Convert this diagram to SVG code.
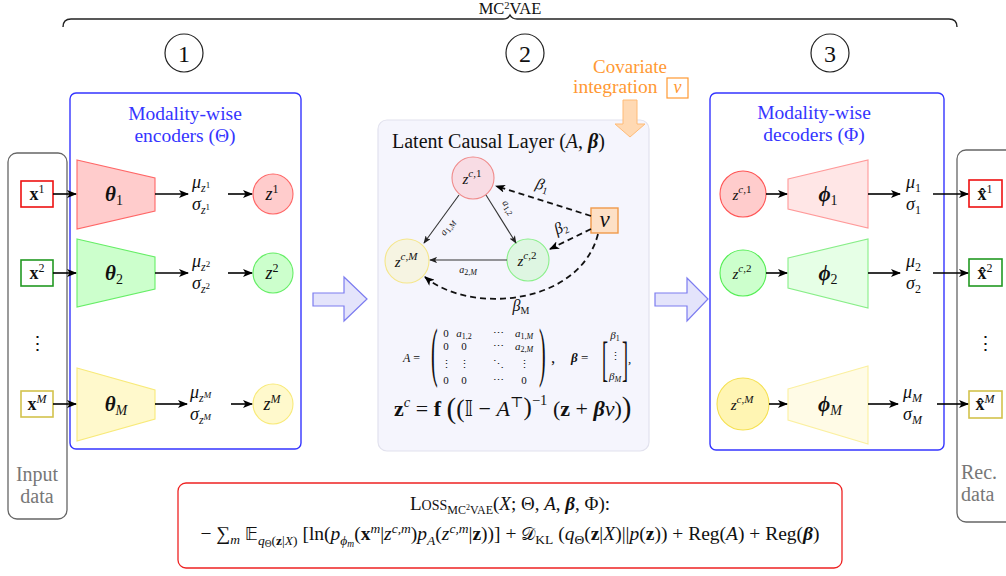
<svg xmlns="http://www.w3.org/2000/svg" width="1006" height="576" viewBox="0 0 1006 576">
  <defs>
    <marker id="ah" viewBox="0 0 10 8" markerWidth="10" markerHeight="8" refX="9" refY="4" orient="auto" markerUnits="userSpaceOnUse">
      <path d="M0,0 L10,4 L0,8 L2.5,4 z" fill="#000"/>
    </marker>
    <marker id="ahs" viewBox="0 0 10 8" markerWidth="8" markerHeight="6.4" refX="9" refY="4" orient="auto" markerUnits="userSpaceOnUse">
      <path d="M0,0 L10,4 L0,8 L2.5,4 z" fill="#222"/>
    </marker>
  </defs>
  <style>
    text { font-family: "Liberation Serif", "DejaVu Serif", serif; fill: #111; }
    .i { font-style: italic; }
    .b { font-weight: bold; }
    .bi { font-weight: bold; font-style: italic; }
    .ds { font-family: "DejaVu Sans", "DejaVu Serif", serif; }
    .num { font-size: 24px; text-anchor: middle; }
    .ring { fill: none; stroke: #222; stroke-width: 1.2; }
    .panel { fill: #fff; stroke: #3535ff; stroke-width: 1.4; }
    .ptitle { fill: #3535ff; font-size: 19.5px; text-anchor: middle; }
    .side { fill: none; stroke: #666; stroke-width: 1.3; }
    .sidelbl { fill: #777; font-size: 20px; }
    .wire { stroke: #000; stroke-width: 1.6; fill: none; marker-end: url(#ah); }
    .thin { stroke: #333; stroke-width: 1.1; fill: none; marker-end: url(#ahs); }
    .dash { stroke: #111; stroke-width: 1.8; fill: none; stroke-dasharray: 6 4; marker-end: url(#ah); }
    .big { fill: #e4e4fb; stroke: #7c7cf0; stroke-width: 1.2; }
    .mid { text-anchor: middle; }
    .orange { fill: #ff9933; }
  </style>

  <!-- overall brace and title -->
  <g id="brace">
    <path d="M63,27 Q63,19 71,19 L503,19 Q508,19 510,15 Q512,19 517,19 L949,19 Q957,19 957,27" fill="none" stroke="#222" stroke-width="1.4"/>
    <text x="510" y="14" class="mid" font-size="16.5">MC<tspan dy="-5" font-size="10.5">2</tspan><tspan dy="5">VAE</tspan></text>
  </g>

  <!-- stage numbers -->
  <g id="stage1"><circle cx="184" cy="53" r="19" class="ring"/><text x="184" y="61.5" class="num">1</text></g>
  <g id="stage2"><circle cx="525" cy="53" r="19" class="ring"/><text x="525" y="61.5" class="num">2</text></g>
  <g id="stage3"><circle cx="830" cy="53" r="19" class="ring"/><text x="830" y="61.5" class="num">3</text></g>

  <!-- input data column -->
  <g id="input-data">
    <rect x="8" y="153" width="59" height="366" rx="9" class="side"/>
    <text x="37" y="350" class="mid" font-size="19">⋮</text>
    <text x="37" y="481" class="sidelbl mid">Input</text>
    <text x="37" y="503" class="sidelbl mid">data</text>
  </g>
  <g id="x1"><rect x="21" y="181" width="32" height="26" fill="#fff" stroke="#ee1111" stroke-width="1.6"/>
    <text x="37" y="200" class="mid" font-size="18"><tspan class="b">x</tspan><tspan dy="-7" font-size="12">1</tspan></text></g>
  <g id="x2"><rect x="21" y="260" width="32" height="26" fill="#fff" stroke="#229922" stroke-width="1.6"/>
    <text x="37" y="279" class="mid" font-size="18"><tspan class="b">x</tspan><tspan dy="-7" font-size="12">2</tspan></text></g>
  <g id="xM"><rect x="21" y="391" width="32" height="26" fill="#fff" stroke="#d3c24c" stroke-width="1.6"/>
    <text x="37" y="410" class="mid" font-size="18"><tspan class="b">x</tspan><tspan dy="-7" font-size="12" class="i">M</tspan></text></g>

  <!-- encoders -->
  <g id="encoders">
    <rect x="70" y="93" width="231" height="356" rx="6" class="panel"/>
    <text x="185" y="120" class="ptitle">Modality-wise</text>
    <text x="185" y="142" class="ptitle">encoders (Θ)</text>
  </g>
  <g id="enc1">
    <polygon points="77,160 155,178 155,211 77,229" fill="#ffcccc" stroke="#ff6666" stroke-width="1.1"/>
    <text x="114" y="201" class="mid" font-size="21"><tspan class="bi">θ</tspan><tspan dy="4" font-size="14">1</tspan></text>
  </g>
  <g id="enc2">
    <polygon points="77,239 155,257 155,289 77,307" fill="#ccffcc" stroke="#66ee66" stroke-width="1.1"/>
    <text x="114" y="280" class="mid" font-size="21"><tspan class="bi">θ</tspan><tspan dy="4" font-size="14">2</tspan></text>
  </g>
  <g id="encM">
    <polygon points="77,368 155,390 155,419 77,441" fill="#fff9cc" stroke="#f8ea7a" stroke-width="1.1"/>
    <text x="116" y="411" class="mid" font-size="21"><tspan class="bi">θ</tspan><tspan dy="4" font-size="14" class="i">M</tspan></text>
  </g>
  <g id="stats-enc" font-size="18">
    <text x="192" y="188" class="i">μ<tspan dy="4" font-size="12">z</tspan><tspan dy="-4" font-size="9" font-style="normal">1</tspan></text>
    <text x="192" y="210" class="i">σ<tspan dy="4" font-size="12">z</tspan><tspan dy="-4" font-size="9" font-style="normal">1</tspan></text>
    <text x="192" y="267" class="i">μ<tspan dy="4" font-size="12">z</tspan><tspan dy="-4" font-size="9" font-style="normal">2</tspan></text>
    <text x="192" y="289" class="i">σ<tspan dy="4" font-size="12">z</tspan><tspan dy="-4" font-size="9" font-style="normal">2</tspan></text>
    <text x="190" y="398" class="i">μ<tspan dy="4" font-size="12">z</tspan><tspan dy="-4" font-size="9">M</tspan></text>
    <text x="190" y="420" class="i">σ<tspan dy="4" font-size="12">z</tspan><tspan dy="-4" font-size="9">M</tspan></text>
  </g>
  <g id="z1"><circle cx="273" cy="194" r="20" fill="#ffcccc" stroke="#ff6666" stroke-width="1.1"/>
    <text x="272" y="200" class="mid i" font-size="18">z<tspan dy="-7" font-size="12" font-style="normal">1</tspan></text></g>
  <g id="z2"><circle cx="273" cy="273" r="20" fill="#ccffcc" stroke="#66ee66" stroke-width="1.1"/>
    <text x="272" y="279" class="mid i" font-size="18">z<tspan dy="-7" font-size="12" font-style="normal">2</tspan></text></g>
  <g id="zM"><circle cx="273" cy="404" r="20" fill="#fff9cc" stroke="#f8ea7a" stroke-width="1.1"/>
    <text x="272" y="410" class="mid i" font-size="18">z<tspan dy="-7" font-size="12">M</tspan></text></g>

  <!-- stage transitions -->
  <g id="flow-in"><polygon points="313,293 344,293 344,277 367,299 344,321 344,306 313,306" class="big"/></g>
  <g id="flow-out"><polygon points="655,293 687,293 687,278 708,299 687,321 687,306 655,306" class="big"/></g>

  <!-- latent causal layer -->
  <g id="causal-layer">
    <rect x="378" y="120" width="271" height="331" rx="9" fill="#f5f5fd" stroke="#e2e2ee" stroke-width="1.2"/>
    <text x="392" y="148" font-size="20" fill="#333">Latent Causal Layer (<tspan class="i">A</tspan>, <tspan class="bi">β</tspan>)</text>
  </g>
  <g id="covariate">
    <text x="630" y="73" class="mid orange" font-size="19">Covariate</text>
    <text x="573" y="93" class="orange" font-size="19.5">integration</text>
    <rect x="667" y="78" width="21" height="20" fill="none" stroke="#ff9933" stroke-width="1.2"/>
    <text x="677.5" y="93" class="mid i orange" font-size="18">v</text>
    <polygon points="623,100 637,100 637,124 645,124 630,137 615,124 623,124" fill="#ffd9b3" stroke="#ffbb77" stroke-width="1"/>
  </g>
  <g id="zc1"><circle cx="473" cy="178" r="21" fill="#f8dce4" stroke="#f08a8a" stroke-width="1.1"/>
    <text x="472" y="184" class="mid i" font-size="15">z<tspan dy="-7" font-size="11">c</tspan><tspan font-size="11" font-style="normal">,1</tspan></text></g>
  <g id="zcM"><circle cx="407" cy="261" r="22" fill="#f6f4e2" stroke="#f5e68a" stroke-width="1.1"/>
    <text x="406" y="267" class="mid i" font-size="15">z<tspan dy="-7" font-size="11">c</tspan><tspan font-size="11" font-style="normal">,</tspan><tspan font-size="11">M</tspan></text></g>
  <g id="zc2"><circle cx="528" cy="260" r="21" fill="#def6e2" stroke="#8aef8a" stroke-width="1.1"/>
    <text x="527" y="266" class="mid i" font-size="15">z<tspan dy="-7" font-size="11">c</tspan><tspan font-size="11" font-style="normal">,2</tspan></text></g>
  <g id="v"><rect x="591" y="208" width="27" height="25" fill="#fde0c6" stroke="#f09a4a" stroke-width="1.4"/>
    <text x="604.5" y="227" class="mid i" font-size="23">v</text></g>

  <!-- edge labels of the causal graph -->
  <g id="edge-labels" fill="#333">
    <text transform="translate(450,229) rotate(-54)" class="mid i" font-size="10">a<tspan dy="2" font-size="8" font-style="normal">1,</tspan><tspan font-size="8">M</tspan></text>
    <text transform="translate(506,209) rotate(57)" class="mid i" font-size="10">a<tspan dy="2" font-size="8" font-style="normal">1,2</tspan></text>
    <text x="468" y="273" class="mid i" font-size="10">a<tspan dy="2" font-size="8" font-style="normal">2,</tspan><tspan font-size="8">M</tspan></text>
    <text transform="translate(541,190) rotate(17)" class="mid i" font-size="16" fill="#555">β<tspan dy="3" font-size="10" font-style="normal">1</tspan></text>
    <text transform="translate(563,232) rotate(-25)" class="mid i" font-size="16" fill="#555">β<tspan dy="3" font-size="10" font-style="normal">2</tspan></text>
    <text x="521" y="311" class="mid i" font-size="16" fill="#555">β<tspan dy="3" font-size="10" font-style="normal">M</tspan></text>
  </g>

  <!-- matrix and structural equation -->
  <g id="matrices" font-size="11">
    <text x="403" y="362" font-size="12"><tspan class="i">A</tspan> =</text>
    <text transform="translate(431,373.5) scale(1,3.3)" font-size="20">(</text>
    <text x="446" y="337" class="mid">0</text><text x="464" y="337" class="mid i">a<tspan dy="2" font-size="8" font-style="normal">1,2</tspan></text><text x="498" y="337" class="mid">⋯</text><text x="524" y="337" class="mid i">a<tspan dy="2" font-size="8" font-style="normal">1,</tspan><tspan font-size="8">M</tspan></text>
    <text x="446" y="350" class="mid">0</text><text x="464" y="350" class="mid">0</text><text x="498" y="350" class="mid">⋯</text><text x="524" y="350" class="mid i">a<tspan dy="2" font-size="8" font-style="normal">2,</tspan><tspan font-size="8">M</tspan></text>
    <text x="446" y="368" class="mid">⋮</text><text x="464" y="368" class="mid">⋮</text><text x="498" y="368" class="mid">⋱</text><text x="524" y="368" class="mid">⋮</text>
    <text x="446" y="384" class="mid">0</text><text x="464" y="384" class="mid">0</text><text x="498" y="384" class="mid">⋯</text><text x="524" y="384" class="mid">0</text>
    <text transform="translate(539,373.5) scale(1,3.3)" font-size="20">)</text>
    <text x="551" y="363" font-size="17">,</text>
    <text x="571" y="362" font-size="13"><tspan class="bi">β</tspan> =</text>
    <text transform="translate(602,374.5) scale(1,2.72)" font-size="18">[</text>
    <text x="615" y="339" class="mid i">β<tspan dy="2" font-size="8" font-style="normal">1</tspan></text>
    <text x="615" y="360" class="mid">⋮</text>
    <text x="615" y="380" class="mid i">β<tspan dy="2" font-size="8">M</tspan></text>
    <text transform="translate(622,374.5) scale(1,2.72)" font-size="18">]</text>
    <text x="628" y="363" font-size="13">,</text>
  </g>
  <g id="equation">
    <text x="394" y="416" font-size="22"><tspan class="b">z</tspan><tspan dy="-9" font-size="14.5" class="i">c</tspan><tspan dy="9"> = </tspan><tspan class="b">f</tspan> <tspan font-size="29" dy="2">(</tspan><tspan font-size="25" dy="-1">(</tspan><tspan class="ds" dy="-1">𝕀</tspan> − <tspan class="i">A</tspan><tspan dy="-9" font-size="14.5">⊤</tspan><tspan dy="8" font-size="25">)</tspan><tspan dy="-10" font-size="14.5">−1</tspan><tspan dy="11"> (</tspan><tspan class="b">z</tspan> + <tspan class="bi">β</tspan><tspan class="i">v</tspan>)<tspan font-size="29" dy="1">)</tspan></text>
  </g>

  <!-- decoders -->
  <g id="decoders">
    <rect x="710" y="93" width="234" height="357" rx="6" class="panel"/>
    <text x="814" y="119" class="ptitle">Modality-wise</text>
    <text x="814" y="141" class="ptitle">decoders (Φ)</text>
  </g>
  <g id="dz1"><circle cx="743" cy="194" r="23" fill="#ffcccc" stroke="#ff5555" stroke-width="1.1"/>
    <text x="742" y="200" class="mid i" font-size="15">z<tspan dy="-7" font-size="11">c</tspan><tspan font-size="11" font-style="normal">,1</tspan></text></g>
  <g id="dz2"><circle cx="743" cy="273" r="23" fill="#ccffcc" stroke="#55ee55" stroke-width="1.1"/>
    <text x="742" y="279" class="mid i" font-size="15">z<tspan dy="-7" font-size="11">c</tspan><tspan font-size="11" font-style="normal">,2</tspan></text></g>
  <g id="dzM"><circle cx="743" cy="404" r="26" fill="#fff5b3" stroke="#f5e050" stroke-width="1.1"/>
    <text x="742" y="410" class="mid i" font-size="15">z<tspan dy="-7" font-size="11">c</tspan><tspan font-size="11" font-style="normal">,</tspan><tspan font-size="11">M</tspan></text></g>
  <g id="dec1">
    <polygon points="788,179 868,160 868,228 788,209" fill="#ffe6e6" stroke="#ff9999" stroke-width="1.1"/>
    <text x="828" y="201" class="mid" font-size="21"><tspan class="bi">ϕ</tspan><tspan dy="4" font-size="14">1</tspan></text>
  </g>
  <g id="dec2">
    <polygon points="788,258 868,239 868,308 788,288" fill="#e6ffe6" stroke="#88ee88" stroke-width="1.1"/>
    <text x="828" y="280" class="mid" font-size="21"><tspan class="bi">ϕ</tspan><tspan dy="4" font-size="14">2</tspan></text>
  </g>
  <g id="decM">
    <polygon points="788,389 868,366 868,444 788,420" fill="#fffbe6" stroke="#fbf0a0" stroke-width="1.1"/>
    <text x="830" y="411" class="mid" font-size="21"><tspan class="bi">ϕ</tspan><tspan dy="4" font-size="14" class="i">M</tspan></text>
  </g>
  <g id="stats-dec" font-size="18">
    <text x="906" y="188" class="i">μ<tspan dy="4" font-size="12" font-style="normal">1</tspan></text>
    <text x="906" y="210" class="i">σ<tspan dy="4" font-size="12" font-style="normal">1</tspan></text>
    <text x="906" y="267" class="i">μ<tspan dy="4" font-size="12" font-style="normal">2</tspan></text>
    <text x="906" y="289" class="i">σ<tspan dy="4" font-size="12" font-style="normal">2</tspan></text>
    <text x="903" y="398" class="i">μ<tspan dy="4" font-size="12">M</tspan></text>
    <text x="903" y="420" class="i">σ<tspan dy="4" font-size="12">M</tspan></text>
  </g>

  <!-- reconstructed data column -->
  <g id="rec-data">
    <rect x="957" y="150" width="80" height="372" rx="9" class="side"/>
    <text x="985" y="350" class="mid" font-size="19">⋮</text>
    <text x="961" y="479" class="sidelbl">Rec.</text>
    <text x="961" y="501" class="sidelbl">data</text>
  </g>
  <g id="xh1"><rect x="969" y="180" width="33" height="27" fill="#fff" stroke="#ee1111" stroke-width="1.6"/>
    <text x="985" y="200" class="mid" font-size="18"><tspan class="b">x̂</tspan><tspan dy="-7" font-size="12">1</tspan></text></g>
  <g id="xh2"><rect x="969" y="259" width="33" height="27" fill="#fff" stroke="#229922" stroke-width="1.6"/>
    <text x="985" y="279" class="mid" font-size="18"><tspan class="b">x̂</tspan><tspan dy="-7" font-size="12">2</tspan></text></g>
  <g id="xhM"><rect x="969" y="391" width="33" height="27" fill="#fff" stroke="#d3c24c" stroke-width="1.6"/>
    <text x="985" y="410" class="mid" font-size="18"><tspan class="b">x̂</tspan><tspan dy="-7" font-size="12" class="i">M</tspan></text></g>

  <!-- connectors -->
  <g id="connectors">
    <line x1="53" y1="194" x2="76" y2="194" class="wire"/>
    <line x1="53" y1="273" x2="76" y2="273" class="wire"/>
    <line x1="53" y1="404" x2="76" y2="404" class="wire"/>
    <line x1="155" y1="194" x2="188" y2="194" class="wire"/>
    <line x1="155" y1="273" x2="188" y2="273" class="wire"/>
    <line x1="155" y1="404" x2="187" y2="404" class="wire"/>
    <line x1="228" y1="194" x2="252" y2="194" class="wire"/>
    <line x1="228" y1="273" x2="252" y2="273" class="wire"/>
    <line x1="231" y1="404" x2="252" y2="404" class="wire"/>

    <line x1="459" y1="195" x2="424" y2="243" class="thin"/>
    <line x1="486" y1="195" x2="516" y2="243" class="thin"/>
    <line x1="507" y1="260" x2="430" y2="260" class="thin"/>
    <line x1="591" y1="216" x2="496" y2="186" class="dash"/>
    <line x1="591" y1="229" x2="550" y2="249" class="dash"/>
    <path d="M598,234 C580,305 470,315 425,277" class="dash"/>

    <line x1="766" y1="194" x2="787" y2="194" class="wire"/>
    <line x1="766" y1="273" x2="787" y2="273" class="wire"/>
    <line x1="769" y1="404" x2="787" y2="404" class="wire"/>
    <line x1="868" y1="194" x2="900" y2="194" class="wire"/>
    <line x1="868" y1="273" x2="900" y2="273" class="wire"/>
    <line x1="868" y1="404" x2="898" y2="404" class="wire"/>
    <line x1="933" y1="194" x2="968" y2="194" class="wire"/>
    <line x1="933" y1="273" x2="968" y2="273" class="wire"/>
    <line x1="937" y1="404" x2="968" y2="404" class="wire"/>
  </g>

  <!-- training objective -->
  <g id="loss">
    <rect x="178" y="483" width="664" height="85" rx="8" fill="#fff" stroke="#ee2222" stroke-width="1.3"/>
    <text x="510" y="510" class="mid" font-size="19">L<tspan font-size="14">OSS</tspan><tspan dy="4" font-size="12">MC</tspan><tspan dy="-4" font-size="8">2</tspan><tspan dy="4" font-size="12">VAE</tspan><tspan dy="-4">(</tspan><tspan class="i">X</tspan>; Θ, <tspan class="i">A</tspan>, <tspan class="bi">β</tspan>, Φ):</text>
    <text x="510" y="540" class="mid" font-size="19.5">− ∑<tspan dy="4" font-size="13.5" class="i">m</tspan><tspan dy="-4"> </tspan><tspan class="ds" font-size="18">𝔼</tspan><tspan dy="5" font-size="13.5" class="i">q</tspan><tspan dy="2" font-size="9.5">Θ</tspan><tspan dy="-2" font-size="13.5">(</tspan><tspan font-size="13.5" class="b">z</tspan><tspan font-size="13.5">|</tspan><tspan font-size="13.5" class="i">X</tspan><tspan font-size="13.5">)</tspan><tspan dy="-5"> [ln(</tspan><tspan class="i">p</tspan><tspan dy="5" font-size="13.5" class="i">ϕ</tspan><tspan dy="2" font-size="9.5" class="i">m</tspan><tspan dy="-7">(</tspan><tspan class="b">x</tspan><tspan dy="-7" font-size="13.5" class="i">m</tspan><tspan dy="7">|</tspan><tspan class="i">z</tspan><tspan dy="-7" font-size="13.5" class="i">c,m</tspan><tspan dy="7">)</tspan><tspan class="i">p</tspan><tspan dy="5" font-size="13.5" class="i">A</tspan><tspan dy="-5">(</tspan><tspan class="i">z</tspan><tspan dy="-7" font-size="13.5" class="i">c,m</tspan><tspan dy="7">|</tspan><tspan class="b">z</tspan>))] + <tspan class="ds" font-size="18">𝒟</tspan><tspan dy="4" font-size="13.5">KL</tspan><tspan dy="-4"> (</tspan><tspan class="i">q</tspan><tspan dy="4" font-size="13.5">Θ</tspan><tspan dy="-4">(</tspan><tspan class="b">z</tspan>|<tspan class="i">X</tspan>)||<tspan class="i">p</tspan>(<tspan class="b">z</tspan>)) + Reg(<tspan class="i">A</tspan>) + Reg(<tspan class="bi">β</tspan>)</text>
  </g>
</svg>
